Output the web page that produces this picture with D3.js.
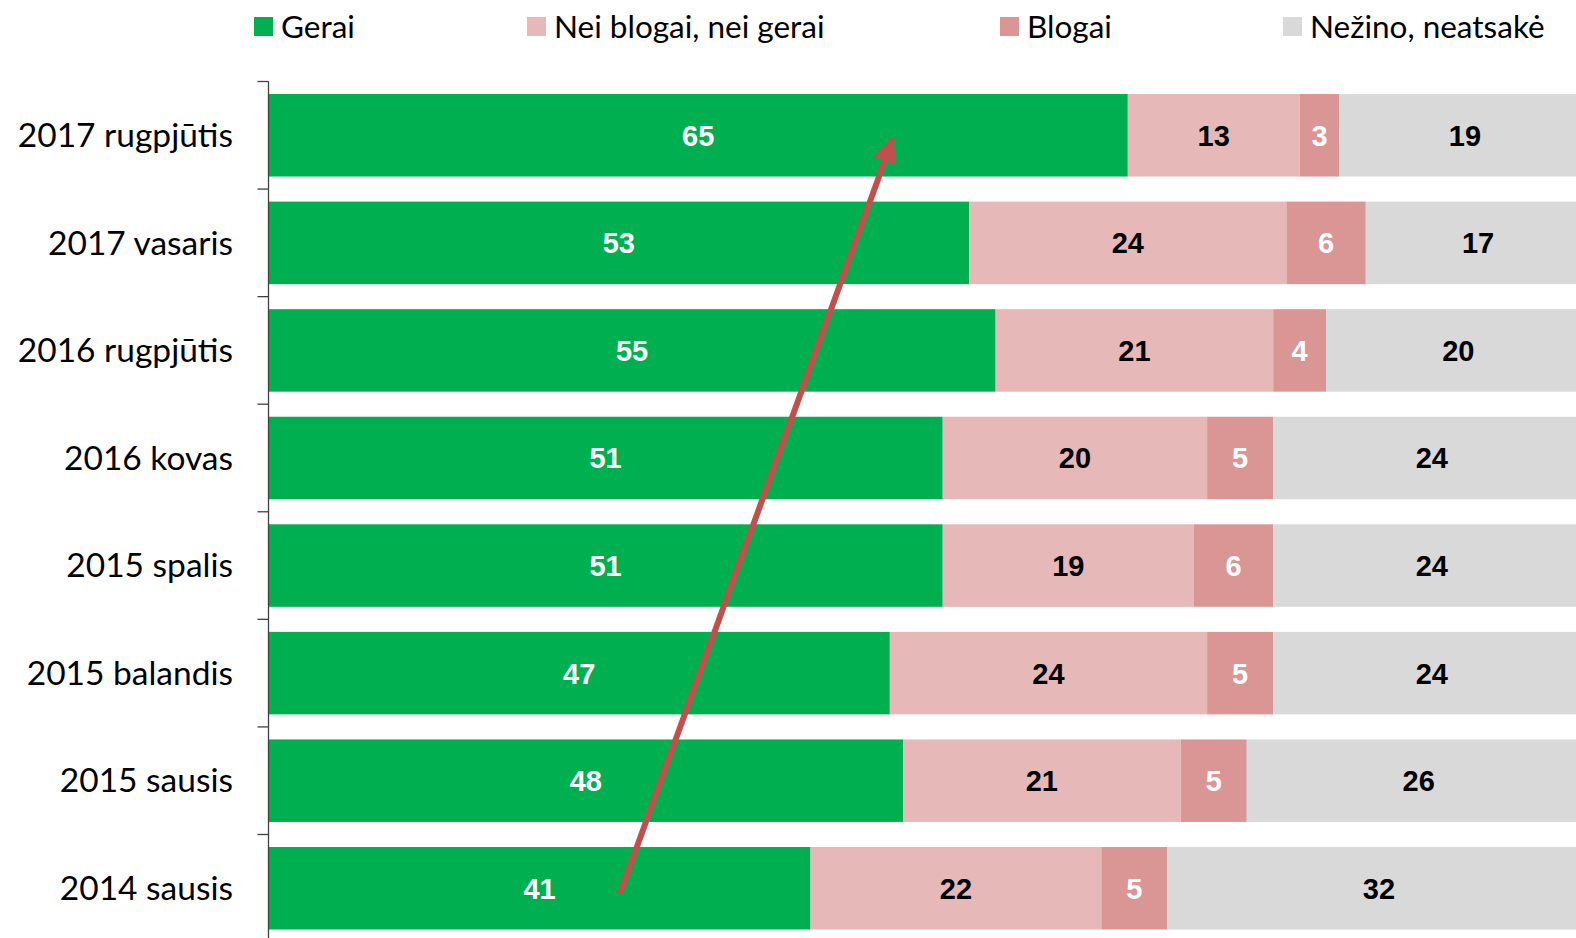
<!DOCTYPE html>
<html>
<head>
    <meta charset="utf-8">
    <script src="https://d3js.org/d3.v7.min.js"></script>
    <style>
        body { margin: 0; background: #fff; }
        .axis .domain, .axis line { stroke: #404040; stroke-width: 1.3; }
    </style>
</head>
<body>
    <svg id="chart" width="1576" height="938"></svg>
    <script>
        const categories = ["2017 rugpjūtis", "2017 vasaris", "2016 rugpjūtis", "2016 kovas",
            "2015 spalis", "2015 balandis", "2015 sausis", "2014 sausis"];
        const seriesNames = ["Gerai", "Nei blogai, nei gerai", "Blogai", "Nežino, neatsakė"];
        const gerai = [65, 53, 55, 51, 51, 47, 48, 41];
        const neiBlogai = [13, 24, 21, 20, 19, 24, 21, 22];
        const blogai = [3, 6, 4, 5, 6, 5, 5, 5];
        const nezino = [19, 17, 20, 24, 24, 24, 26, 32];
        // trend arrow, in data units
        const arrowFrom = { value: 26.6, cat: "2014 sausis" };
        const arrowTo = { value: 47.2, cat: "2017 rugpjūtis" };

        const colors = ["#00B050", "#E6B8B7", "#D99694", "#D9D9D9"];
        const labelColors = ["#fff", "#000", "#fff", "#000"];

        const svg = d3.select("#chart");
        const left = 268.5;

        const rows = categories.map((c, i) => ({
            cat: c, "Gerai": gerai[i], "Nei blogai, nei gerai": neiBlogai[i],
            "Blogai": blogai[i], "Nežino, neatsakė": nezino[i]
        }));
        const stacked = d3.stack().keys(seriesNames)(rows);

        const x = d3.scaleLinear().domain([0, 100]).range([left, left + 1322]);
        const y = d3.scaleBand().domain(categories).range([81.5, 81.5 + 8 * 107.57]).paddingInner(0.233).paddingOuter(0.1165);

        const layers = svg.append("g").selectAll("g").data(stacked)
            .join("g")
            .attr("fill", (d, i) => colors[i]);

        layers.selectAll("rect").data(d => d)
            .join("rect")
            .attr("x", d => x(d[0]))
            .attr("y", d => y(d.data.cat))
            .attr("width", d => x(d[1]) - x(d[0]))
            .attr("height", y.bandwidth());

        layers.each(function (s, si) {
            d3.select(this).selectAll("text").data(s)
                .join("text")
                .attr("x", d => (x(d[0]) + x(d[1])) / 2)
                .attr("y", d => y(d.data.cat) + y.bandwidth() / 2)
                .attr("dy", "0.36em")
                .attr("text-anchor", "middle")
                .attr("fill", labelColors[si])
                .style("font-family", "'Liberation Sans', Arial, sans-serif")
                .style("font-weight", "bold")
                .style("font-size", "29px")
                .text(d => d[1] - d[0]);
        });

        // y axis
        const yStep = y.step();
        const axis = svg.append("g").attr("class", "axis");
        axis.append("line").attr("class", "domain")
            .attr("x1", left).attr("x2", left)
            .attr("y1", 81.5).attr("y2", 938);
        axis.selectAll("line.tick").data(d3.range(categories.length + 1))
            .join("line")
            .attr("class", "tick")
            .attr("x1", left - 11).attr("x2", left)
            .attr("y1", i => 81.5 + i * yStep).attr("y2", i => 81.5 + i * yStep);
        axis.selectAll("text").data(categories)
            .join("text")
            .attr("x", 233)
            .attr("y", d => y(d) + y.bandwidth() / 2)
            .attr("dy", "0.35em")
            .attr("text-anchor", "end")
            .style("font-family", "Lato, sans-serif")
            .style("font-size", "33.5px")
            .attr("fill", "#000")
            .text(d => d);

        // legend
        const legendX = [254, 527, 1000, 1283];
        const legend = svg.append("g").selectAll("g").data(seriesNames)
            .join("g")
            .attr("transform", (d, i) => `translate(${legendX[i]},17)`);
        legend.append("rect").attr("width", 19).attr("height", 19)
            .attr("fill", (d, i) => colors[i]);
        legend.append("text")
            .attr("x", 27).attr("y", 9.5).attr("dy", "0.36em")
            .style("font-family", "Lato, sans-serif")
            .style("font-size", "31.5px")
            .text(d => d);

        // arrow
        const defs = svg.append("defs");
        defs.append("marker")
            .attr("id", "head")
            .attr("viewBox", "0 0 10 10")
            .attr("refX", 9).attr("refY", 5)
            .attr("markerWidth", 4.2).attr("markerHeight", 4.2)
            .attr("markerUnits", "strokeWidth")
            .attr("orient", "auto")
            .append("path").attr("d", "M0,0L10,5L0,10Z").attr("fill", "#C0504D");

        const ax1 = x(arrowFrom.value), ay1 = y(arrowFrom.cat) + y.bandwidth() / 2 + 5;
        const ax2 = x(arrowTo.value), ay2 = y(arrowTo.cat) + y.bandwidth() / 2 + 4;
        svg.append("line")
            .attr("x1", ax1).attr("y1", ay1)
            .attr("x2", ax2).attr("y2", ay2)
            .attr("stroke", "#C0504D")
            .attr("stroke-width", 6)
            .attr("marker-end", "url(#head)");
    </script>
</body>
</html>
